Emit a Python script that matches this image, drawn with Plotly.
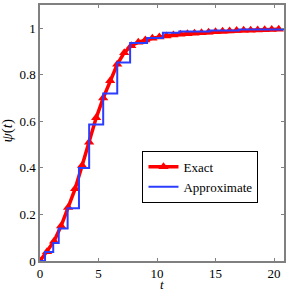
import plotly.graph_objects as go

# Exact solution samples
t_exact = [0.0, 0.6, 1.2, 1.8, 2.4, 3.0, 3.6, 4.2, 4.8, 5.4, 6.0, 6.6, 7.2, 7.8,
           8.4, 9.0, 9.6, 10.2, 10.8, 11.4, 12.0, 12.6, 13.2, 13.8, 14.4, 15.0,
           15.6, 16.2, 16.8, 17.4, 18.0, 18.6, 19.2, 19.8, 20.4]
psi_exact = [0.0, 0.04, 0.085, 0.15, 0.23, 0.31, 0.41, 0.51, 0.615, 0.70, 0.775,
             0.845, 0.895, 0.925, 0.94, 0.95, 0.957, 0.962, 0.967, 0.971, 0.974,
             0.977, 0.979, 0.981, 0.983, 0.985, 0.987, 0.988, 0.99, 0.991, 0.992,
             0.993, 0.994, 0.995, 0.996]

# Approximate (piecewise constant) solution
t_approx = [0.0, 0.43, 1.13, 1.6, 2.36, 3.33, 4.2, 5.4, 6.6, 7.7, 9.15, 10.5,
            11.9, 14.5, 17.0, 20.85]
psi_approx = [0.0, 0.039, 0.077, 0.14, 0.227, 0.40, 0.587, 0.72, 0.853, 0.937,
              0.958, 0.981, 0.986, 0.99, 0.995, 0.998]

x_ticks = [0, 5, 10, 15, 20]
y_ticks = [0, 0.2, 0.4, 0.6, 0.8, 1]
y_tick_text = ["0", "0.2", "0.4", "0.6", "0.8", "1"]

serif = "Liberation Serif"
axis_col = "#808080"

fig = go.Figure()
fig.add_trace(go.Scatter(
    x=t_exact, y=psi_exact, mode="lines+markers", name="Exact",
    line=dict(color="#ff0000", width=3.5),
    marker=dict(symbol="triangle-up", size=9, color="#ff0000"),
))
fig.add_trace(go.Scatter(
    x=t_approx, y=psi_approx, mode="lines", name="Approximate",
    line=dict(color="#2b3dff", width=2, shape="hv"),
))

fig.update_layout(
    width=291, height=291,
    margin=dict(l=40, r=7, t=5, b=30, autoexpand=False),
    paper_bgcolor="white", plot_bgcolor="white",
    font=dict(family=serif, size=14, color="black"),
    showlegend=True,
    legend=dict(
        x=0.42, y=0.43, xanchor="left", yanchor="top",
        bgcolor="white", bordercolor="black", borderwidth=1,
        font=dict(family=serif, size=13),
        itemwidth=30, tracegroupgap=0,
    ),
    annotations=[
        dict(text="<i>t</i>", xref="paper", yref="paper", x=0.5, y=-0.091,
             xanchor="center", yanchor="middle", showarrow=False,
             font=dict(family=serif, size=13)),
        dict(text="<i>ψ</i>(<i>t</i>)", xref="paper", yref="paper", x=-0.135,
             y=0.51, xanchor="center", yanchor="middle", showarrow=False,
             textangle=-90, font=dict(family=serif, size=15)),
    ],
)
fig.update_xaxes(
    range=[0, 20.85], tickvals=x_ticks, ticks="inside", ticklen=3,
    tickcolor=axis_col, showline=True, linecolor=axis_col, linewidth=1.5,
    mirror="ticks", showgrid=False, zeroline=False, automargin=False,
    tickfont=dict(family=serif, size=13),
)
fig.update_yaxes(
    range=[0, 1.1], tickvals=y_ticks, ticktext=y_tick_text, ticks="inside",
    ticklen=3, tickcolor=axis_col, showline=True, linecolor=axis_col,
    linewidth=1.5, mirror="ticks", showgrid=False, zeroline=False,
    automargin=False, tickfont=dict(family=serif, size=13),
)

fig.write_html("out.html", config={"displayModeBar": False},
               post_script="document.body.style.margin='0px';document.body.style.overflow='hidden';")
